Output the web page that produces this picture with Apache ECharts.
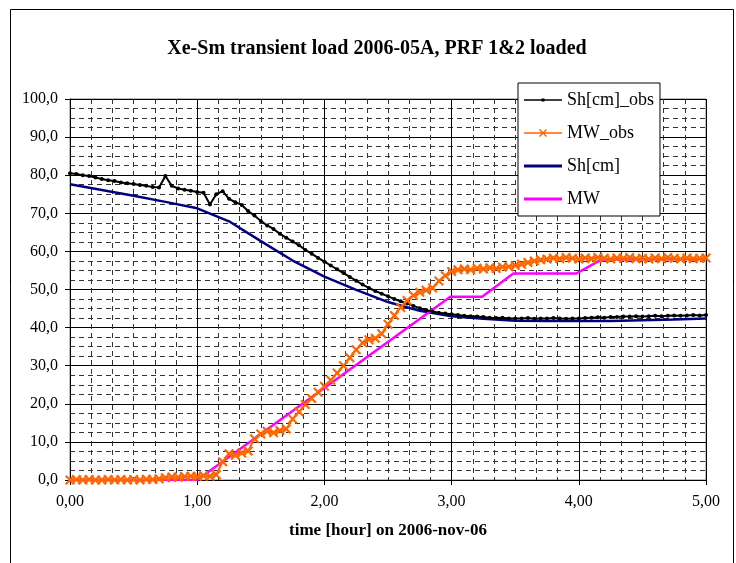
<!DOCTYPE html>
<html>
<head>
<meta charset="utf-8">
<script src="https://cdn.jsdelivr.net/npm/echarts@6/dist/echarts.min.js"></script>
<style>
  html, body { margin: 0; padding: 0; background: #fff; }
  #chart { width: 736px; height: 563px; }
</style>
</head>
<body>
<div id="chart"></div>
<script>
// observed samples (hours)
const obsTime = [
  0.00, 0.05, 0.10, 0.15, 0.20, 0.25, 0.30, 0.35, 0.40, 0.45,
  0.50, 0.55, 0.60, 0.65, 0.70, 0.75, 0.80, 0.85, 0.90, 0.95,
  1.00, 1.05, 1.10, 1.15, 1.20, 1.25, 1.30, 1.35, 1.40, 1.45,
  1.50, 1.55, 1.60, 1.65, 1.70, 1.75, 1.80, 1.85, 1.90, 1.95,
  2.00, 2.05, 2.10, 2.15, 2.20, 2.25, 2.30, 2.35, 2.40, 2.45,
  2.50, 2.55, 2.60, 2.65, 2.70, 2.75, 2.80, 2.85, 2.90, 2.95,
  3.00, 3.05, 3.10, 3.15, 3.20, 3.25, 3.30, 3.35, 3.40, 3.45,
  3.50, 3.55, 3.60, 3.65, 3.70, 3.75, 3.80, 3.85, 3.90, 3.95,
  4.00, 4.05, 4.10, 4.15, 4.20, 4.25, 4.30, 4.35, 4.40, 4.45,
  4.50, 4.55, 4.60, 4.65, 4.70, 4.75, 4.80, 4.85, 4.90, 4.95, 5.00
];
const shObs = [
  80.5, 80.3, 80.0, 79.8, 79.4, 79.0, 78.7, 78.5, 78.1, 77.9,
  77.7, 77.4, 77.2, 76.9, 76.8, 79.8, 77.2, 76.5, 76.2, 75.9,
  75.6, 75.4, 72.3, 75.0, 75.8, 73.8, 72.9, 72.2, 70.6, 69.4,
  68.0, 66.8, 65.9, 64.6, 63.6, 62.6, 61.6, 60.4, 59.4, 58.3,
  57.3, 56.3, 55.3, 54.3, 53.3, 52.3, 51.3, 50.4, 49.6, 48.9,
  48.2, 47.5, 46.9, 46.3, 45.7, 45.1, 44.6, 44.2, 43.9, 43.7,
  43.5, 43.3, 43.1, 43.0, 42.9, 42.8, 42.6, 42.5, 42.6, 42.4,
  42.4, 42.4, 42.5, 42.3, 42.4, 42.4, 42.5, 42.4, 42.3, 42.4,
  42.4, 42.5, 42.6, 42.7, 42.6, 42.8, 42.8, 42.9, 42.9, 43.0,
  42.9, 43.0, 43.1, 43.0, 43.1, 43.2, 43.1, 43.2, 43.3, 43.2, 43.3
];
const mwObs = [
  0.0, 0.1, 0.0, 0.1, 0.0, 0.0, 0.1, 0.0, 0.1, 0.0,
  0.1, 0.0, 0.2, 0.1, 0.3, 0.6, 0.8, 0.7, 0.9, 1.0,
  0.9, 1.1, 1.0, 1.4, 4.8, 6.9, 6.5, 7.1, 7.6, 10.8,
  12.1, 12.8, 12.4, 13.0, 13.4, 16.0, 17.9, 19.8, 21.4, 23.0,
  24.6, 26.2, 28.1, 30.0, 32.1, 34.2, 36.0, 36.8, 37.2, 38.4,
  40.9, 43.2, 45.3, 47.1, 48.4, 49.3, 49.8, 50.4, 52.2, 53.6,
  54.7, 55.2, 55.4, 55.2, 55.6, 55.4, 55.7, 55.5, 55.9, 56.0,
  56.3, 56.6, 57.1, 57.5, 57.8, 58.0, 58.3, 58.1, 58.4, 58.2,
  58.0, 58.3, 58.1, 58.4, 58.2, 58.0, 58.3, 58.2, 58.4, 58.1,
  58.2, 58.0, 58.3, 58.1, 58.4, 58.2, 58.0, 58.3, 58.1, 58.2, 58.3
];
// calculated curves
const shTime = [0, 0.25, 0.5, 0.75, 1.0, 1.25, 1.5, 1.75, 2.0, 2.25, 2.5, 2.75, 3.0, 3.25, 3.5, 3.75, 4.0, 4.25, 4.5, 4.75, 5.0];
const shCalc = [77.6, 76.1, 74.6, 73.0, 71.3, 67.9, 62.7, 57.6, 53.4, 49.9, 46.7, 44.4, 43.0, 42.3, 41.8, 41.7, 41.7, 41.7, 41.9, 42.1, 42.4];
const mwTime = [0, 1.0, 2.99, 3.24, 3.485, 3.98, 4.18, 5.0];
const mwCalc = [0, 0, 48.1, 48.1, 54.2, 54.2, 57.9, 58.0];

const xTickLabels = ['0,00', '1,00', '2,00', '3,00', '4,00', '5,00'];
const yTickLabels = ['0,0', '10,0', '20,0', '30,0', '40,0', '50,0', '60,0', '70,0', '80,0', '90,0', '100,0'];

const zip = (xs, ys) => xs.map((x, i) => [x, ys[i]]);
const serif = "'Liberation Serif', 'Times New Roman', serif";
const crossPath = 'path://M0,1.5L1.5,0L5,3.5L8.5,0L10,1.5L6.5,5L10,8.5L8.5,10L5,6.5L1.5,10L0,8.5L3.5,5Z';

// legend icons: line sample with marker, like the spreadsheet legend
const iconDotLine = 'path://M0,4.25H38V5.75H0Z M17.5,3.5H20.5V6.5H17.5Z';
const iconCrossLine = 'path://M0,4.25H38V5.75H0Z M15,2L16,1L19,4L22,1L23,2L20,5L23,8L22,9L19,6L16,9L15,8L18,5Z';
const iconThickLine = 'path://M0,0H38V3H0Z';

const myEchart = echarts.init(document.getElementById('chart'));
const options = {
  animation: false,
  backgroundColor: '#fff',
  textStyle: { fontFamily: serif },
  title: {
    text: 'Xe-Sm transient load 2006-05A, PRF 1&2 loaded',
    left: 372,
    textAlign: 'center',
    top: 34,
    textStyle: { fontFamily: serif, fontSize: 20, fontWeight: 'bold', color: '#000' }
  },
  graphic: [{
    type: 'rect',
    shape: { x: 10.5, y: 9.5, width: 723, height: 600 },
    style: { fill: 'none', stroke: '#000', lineWidth: 1 },
    silent: true
  }],
  legend: {
    orient: 'vertical',
    left: 518,
    top: 83,
    padding: [8, 6, 8, 6],
    itemWidth: 38,
    itemHeight: 14,
    itemGap: 15,
    borderColor: '#000',
    borderWidth: 1,
    backgroundColor: '#fff',
    textStyle: { fontFamily: serif, fontSize: 18, color: '#000' },
    data: [
      { name: 'Sh[cm]_obs', icon: iconDotLine },
      { name: 'MW_obs', icon: iconCrossLine },
      { name: 'Sh[cm]', icon: iconThickLine },
      { name: 'MW', icon: iconThickLine }
    ],
    z: 10
  },
  grid: {
    left: 70, right: 30, top: 99, bottom: 83,
    show: true, borderColor: '#808080', borderWidth: 1
  },
  xAxis: {
    type: 'value',
    min: 0, max: 5, interval: 1,
    name: 'time [hour] on 2006-nov-06',
    nameLocation: 'middle',
    nameGap: 42,
    nameTextStyle: { fontFamily: serif, fontSize: 17, fontWeight: 'bold', color: '#000' },
    axisLine: { show: true, lineStyle: { color: '#000', width: 1 } },
    axisTick: { show: true, inside: false, length: 5, lineStyle: { color: '#000' } },
    axisLabel: {
      margin: 14,
      fontFamily: serif, fontSize: 16, color: '#000',
      formatter: (v) => xTickLabels[Math.round(v)]
    },
    splitLine: { show: true, lineStyle: { color: '#000', width: 1 } },
    minorTick: { show: false, splitNumber: 6 },
    minorSplitLine: { show: true, lineStyle: { color: '#333', width: 1, type: [5, 4] } }
  },
  yAxis: {
    type: 'value',
    min: 0, max: 100, interval: 10,
    axisLine: { show: true, lineStyle: { color: '#000', width: 1 } },
    axisTick: { show: true, inside: false, length: 5, lineStyle: { color: '#000' } },
    axisLabel: {
      margin: 12,
      fontFamily: serif, fontSize: 16, color: '#000',
      formatter: (v) => yTickLabels[Math.round(v / 10)]
    },
    splitLine: { show: true, lineStyle: { color: '#000', width: 1 } },
    minorTick: { show: false, splitNumber: 4 },
    minorSplitLine: { show: true, lineStyle: { color: '#333', width: 1, type: [5, 4] } }
  },
  series: [
    {
      name: 'Sh[cm]_obs',
      type: 'line',
      data: zip(obsTime, shObs),
      symbol: 'circle',
      symbolSize: 4,
      showAllSymbol: true,
      itemStyle: { color: '#000' },
      lineStyle: { color: '#000', width: 2 },
      z: 4
    },
    {
      name: 'MW_obs',
      type: 'line',
      data: zip(obsTime, mwObs),
      symbol: crossPath,
      symbolSize: 10,
      showAllSymbol: true,
      itemStyle: { color: '#FF6600' },
      lineStyle: { color: '#FF6600', width: 2 },
      z: 5
    },
    {
      name: 'Sh[cm]',
      type: 'line',
      data: zip(shTime, shCalc),
      symbol: 'none',
      itemStyle: { color: '#000080' },
      lineStyle: { color: '#000080', width: 2.5 },
      z: 3
    },
    {
      name: 'MW',
      type: 'line',
      data: zip(mwTime, mwCalc),
      symbol: 'none',
      itemStyle: { color: '#FF00FF' },
      lineStyle: { color: '#FF00FF', width: 2.5 },
      z: 3
    }
  ]
};
myEchart.setOption(options);
</script>
</body>
</html>
